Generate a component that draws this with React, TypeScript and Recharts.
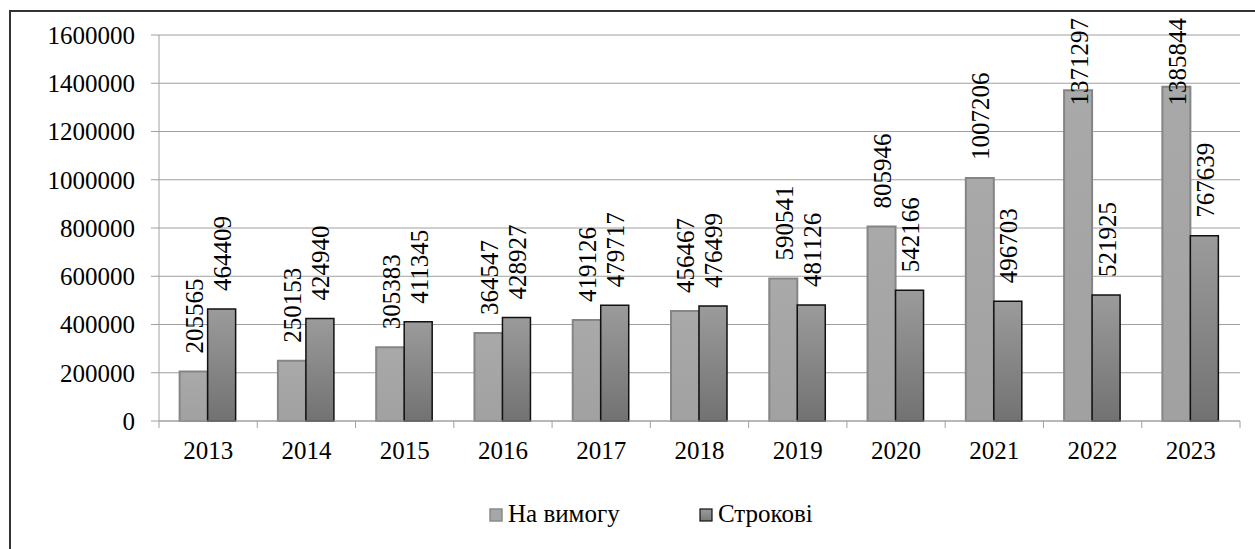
import React from 'react';
import { BarChart, Bar, XAxis, YAxis, CartesianGrid, LabelList } from 'recharts';

const CATEGORIES = ['2013', '2014', '2015', '2016', '2017', '2018', '2019', '2020', '2021', '2022', '2023'];
const ON_DEMAND = [205565, 250153, 305383, 364547, 419126, 456467, 590541, 805946, 1007206, 1371297, 1385844];
const TERM = [464409, 424940, 411345, 428927, 479717, 476499, 481126, 542166, 496703, 521925, 767639];
const Y_TICKS = [0, 200000, 400000, 600000, 800000, 1000000, 1200000, 1400000, 1600000];
const SERIES_NAMES = ['На вимогу', 'Строкові'];

const data = CATEGORIES.map((year, i) => ({ year, onDemand: ON_DEMAND[i], term: TERM[i] }));

const W = 1255;
const H = 549;
const MARGIN = { top: 35, right: 15, bottom: 0, left: 0 };
const Y_WIDTH = 159;
const X_HEIGHT = 128;
const PLOT_W = W - MARGIN.left - MARGIN.right - Y_WIDTH;
const BAND = PLOT_W / CATEGORIES.length;
const FONT = '"Liberation Serif", "Times New Roman", serif';
const FS = 25;
const GRID = '#a0a0a0';

const XTick = (props: any) => {
  const { x, y, payload, index } = props;
  const axisY = y - 20;
  const left = x - BAND / 2;
  return (
    <g>
      <line x1={left} y1={axisY} x2={left} y2={axisY + 7} stroke={GRID} strokeWidth={1} />
      {index === CATEGORIES.length - 1 && (
        <line x1={x + BAND / 2} y1={axisY} x2={x + BAND / 2} y2={axisY + 7} stroke={GRID} strokeWidth={1} />
      )}
      <text x={x} y={axisY + 38} textAnchor="middle" fontFamily={FONT} fontSize={FS} fill="#000">
        {payload.value}
      </text>
    </g>
  );
};

const RotLabel = (props: any) => {
  const { x, y, width, value } = props;
  const cx = x + width / 2 + 1;
  const len = String(value).length * 12.5;
  let bottom = y - 18;
  if (bottom - len < 18) bottom = 18 + len;
  return (
    <text
      x={cx}
      y={bottom}
      transform={`rotate(-90, ${cx}, ${bottom})`}
      textAnchor="start"
      dominantBaseline="central"
      fontFamily={FONT}
      fontSize={FS}
      fill="#000"
    >
      {value}
    </text>
  );
};

export default function App() {
  return (
    <div style={{ position: 'absolute', left: 0, top: 0, width: W, height: H, overflow: 'hidden', background: '#fff' }}>
      <div
        style={{
          position: 'absolute',
          left: 9,
          top: 10,
          width: 1400,
          height: 700,
          border: '2px solid #333',
          boxSizing: 'border-box',
        }}
      />
      <div style={{ position: 'absolute', left: 0, top: 0 }}>
        <BarChart width={W} height={H} data={data} margin={MARGIN} barCategoryGap="21%" barGap={0}>
          <defs>
            <linearGradient id="gLight" x1="0" y1="0" x2="0" y2="1">
              <stop offset="0%" stopColor="#a9a9a9" />
              <stop offset="100%" stopColor="#a1a1a1" />
            </linearGradient>
            <linearGradient id="gDark" x1="0" y1="0" x2="0" y2="1">
              <stop offset="0%" stopColor="#9b9b9b" />
              <stop offset="100%" stopColor="#727272" />
            </linearGradient>
          </defs>
          <CartesianGrid vertical={false} stroke={GRID} strokeWidth={1} />
          <XAxis
            dataKey="year"
            height={X_HEIGHT}
            axisLine={{ stroke: GRID }}
            tickLine={false}
            tickSize={7}
            tickMargin={13}
            interval={0}
            tick={<XTick />}
          />
          <YAxis
            width={Y_WIDTH}
            domain={[0, 1600000]}
            ticks={Y_TICKS}
            interval={0}
            axisLine={{ stroke: GRID }}
            tickLine={{ stroke: GRID }}
            tickSize={8}
            tickMargin={16}
            tick={{ fontFamily: FONT, fontSize: FS, fill: '#000' }}
          />
          <Bar dataKey="onDemand" name={SERIES_NAMES[0]} fill="url(#gLight)" stroke="#858585" strokeWidth={2} isAnimationActive={false}>
            <LabelList dataKey="onDemand" content={<RotLabel />} />
          </Bar>
          <Bar dataKey="term" name={SERIES_NAMES[1]} fill="url(#gDark)" stroke="#111" strokeWidth={1.5} isAnimationActive={false}>
            <LabelList dataKey="term" content={<RotLabel />} />
          </Bar>
        </BarChart>
      </div>
      <svg width={W} height={H} style={{ position: 'absolute', left: 0, top: 0, pointerEvents: 'none' }}>
        <rect x={490} y={509} width={12} height={12} fill="#a6a6a6" stroke="#8a8a8a" strokeWidth={1.5} />
        <text x={508} y={522} fontFamily={FONT} fontSize={FS} fill="#000">{SERIES_NAMES[0]}</text>
        <rect x={700} y={509} width={12} height={12} fill="url(#legDark)" stroke="#111" strokeWidth={1.2} />
        <defs>
          <linearGradient id="legDark" x1="0" y1="0" x2="0" y2="1">
            <stop offset="0%" stopColor="#9b9b9b" />
            <stop offset="100%" stopColor="#7a7a7a" />
          </linearGradient>
        </defs>
        <text x={718} y={522} fontFamily={FONT} fontSize={FS} fill="#000">{SERIES_NAMES[1]}</text>
      </svg>
    </div>
  );
}
